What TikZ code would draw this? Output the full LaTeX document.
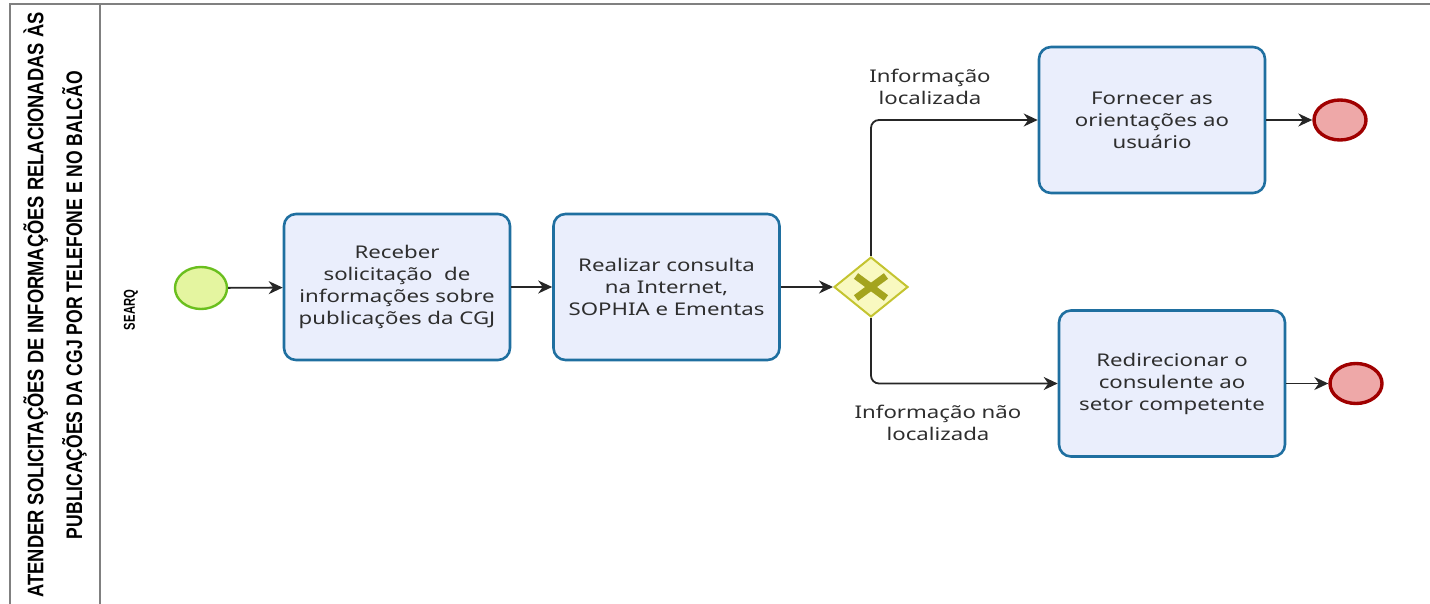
\documentclass[tikz,border=0pt]{standalone}
\usepackage{fontspec}
\setmainfont{Noto Sans}
\newfontfamily\taskfont[FakeStretch=1.27]{Noto Sans}
\newfontfamily\titlefont{Liberation Sans}
\usetikzlibrary{arrows.meta,shapes.geometric,calc}
\definecolor{taskfill}{HTML}{EAEEFC}
\definecolor{taskdraw}{HTML}{1F6FA0}
\definecolor{startfill}{HTML}{E4F5A0}
\definecolor{startdraw}{HTML}{6ABF1E}
\definecolor{endfill}{HTML}{EEA8A8}
\definecolor{enddraw}{HTML}{A00000}
\definecolor{gwfill}{HTML}{F9F9C0}
\definecolor{gwdraw}{HTML}{C4C430}
\definecolor{gwmark}{HTML}{A4A41E}
\definecolor{txt}{HTML}{2E2E2E}
\definecolor{pool}{HTML}{808080}
\tikzset{
  taskbox/.style={draw=taskdraw, line width=2.6pt, fill=taskfill, rounded corners=12pt,
    minimum width=226pt, minimum height=146pt, align=center, text=txt,
    font=\taskfont\fontsize{17.5}{22}\selectfont, inner sep=0pt},
  startev/.style={ellipse, draw=startdraw, line width=2.4pt, fill=startfill,
    minimum width=52pt, minimum height=42pt, inner sep=0pt},
  endev/.style={ellipse, draw=enddraw, line width=3.4pt, fill=endfill,
    minimum width=52pt, minimum height=40pt, inner sep=0pt},
  gateway/.style={diamond, draw=gwdraw, line width=2pt, fill=gwfill,
    minimum width=74pt, minimum height=60pt, inner sep=0pt},
  flow/.style={draw=black!85, line width=1.8pt, -{Stealth[length=14pt,width=13pt,inset=4.5pt]}},
  lbl/.style={align=center, text=txt, font=\taskfont\fontsize{17.5}{22.5}\selectfont, inner sep=0pt}
}
\begin{document}
\begin{tikzpicture}[x=1pt,y=-1pt]
\useasboundingbox (0,0) rectangle (1430,604);
% pool
\draw[pool, line width=2pt] (10,604) -- (10,4) -- (1430,4);
\draw[pool, line width=1.5pt] (100,4) -- (100,604);
\node[rotate=90, align=center, text=black, inner sep=0pt] (pooltitle) at (55,305)
  {\resizebox{585pt}{20pt}{\titlefont\bfseries ATENDER SOLICITAÇÕES DE INFORMAÇÕES RELACIONADAS ÀS}\\[13pt]
   \resizebox{468pt}{20pt}{\titlefont\bfseries PUBLICAÇÕES DA CGJ POR TELEFONE E NO BALCÃO}};
\node[rotate=90, inner sep=0pt] (lane) at (131,310)
  {\resizebox{40pt}{11pt}{\titlefont\bfseries SEARQ}};
% nodes
\node[startev] (start) at (201,288) {};
\node[taskbox] (t1) at (397,287) {Receber\\solicitação\ \ de\\informações sobre\\publicações da CGJ};
\node[taskbox] (t2) at (666.5,287) {Realizar consulta\\na Internet,\\SOPHIA e Ementas};
\node[gateway] (gw) at (871,287) {};
\draw[gwmark, line width=7pt] ($(gw.center)+(-15,-11)$) -- ($(gw.center)+(15,11)$);
\draw[gwmark, line width=7pt] ($(gw.center)+(-15,11)$) -- ($(gw.center)+(15,-11)$);
\node[taskbox] (t3) at (1152,120) {Fornecer as\\orientações ao\\usuário};
\node[taskbox] (t4) at (1172,383.5) {Redirecionar o\\consulente ao\\setor competente};
\node[endev] (e1) at (1340,120) {};
\node[endev] (e2) at (1356,383.5) {};
% flows
\draw[flow] (start) -- (t1);
\draw[flow] (t1) -- (t2);
\draw[flow] (t2) -- (gw);
\draw[flow, rounded corners=8pt] (gw.north) |- (t3.west);
\draw[flow, rounded corners=8pt] (gw.south) |- (t4.west);
\draw[flow] (t3) -- (e1);
\draw[flow] (t4) -- (e2);
% labels
\node[lbl] (l1) at (930,87) {Informação\\localizada};
\node[lbl] (l2) at (938,423) {Informação não\\localizada};
\end{tikzpicture}
\end{document}
